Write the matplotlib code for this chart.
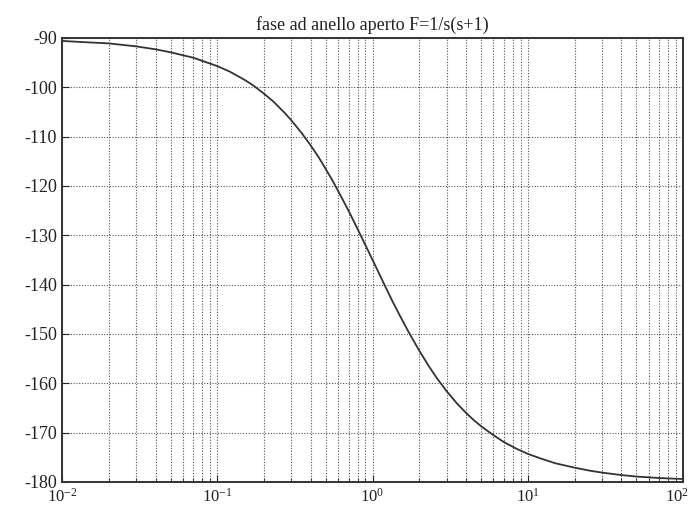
import matplotlib
matplotlib.use("Agg")
import matplotlib.pyplot as plt
from matplotlib.ticker import LogLocator, FixedLocator
import matplotlib.transforms as mtransforms

# Frequency (rad/s) and phase (deg)
freq = [0.01, 0.015, 0.02, 0.03, 0.04, 0.05, 0.07, 0.1, 0.12, 0.15, 0.17, 0.2, 0.23,
        0.27, 0.3, 0.35, 0.4, 0.45, 0.5, 0.55, 0.6, 0.7, 0.8, 0.9, 1.0, 1.1, 1.2,
        1.35, 1.5, 1.7, 2.0, 2.3, 2.6, 3.0, 3.5, 4.0, 4.5, 5.0, 6.0, 7.0, 8.5,
        10.0, 12.0, 15.0, 20.0, 25.0, 30.0, 40.0, 50.0, 70.0, 100.0]
phase = [-90.6, -90.9, -91.1, -91.7, -92.3, -92.9, -94.0, -95.7, -96.8, -98.5,
         -99.6, -101.3, -102.9, -105.1, -106.7, -109.3, -111.8, -114.2, -116.6,
         -118.8, -121.0, -125.0, -128.7, -132.0, -135.0, -137.7, -140.2, -143.5,
         -146.3, -149.5, -153.4, -156.5, -159.0, -161.6, -164.1, -166.0, -167.5,
         -168.7, -170.5, -171.9, -173.3, -174.3, -175.2, -176.2, -177.1, -177.7,
         -178.1, -178.6, -178.9, -179.2, -179.4]

yticks = [-90, -100, -110, -120, -130, -140, -150, -160, -170, -180]
title = "fase ad anello aperto F=1/s(s+1)"

plt.rcParams['font.family'] = ['Liberation Serif', 'DejaVu Serif']
plt.rcParams['axes.unicode_minus'] = False

fig = plt.figure(figsize=(6.9, 5.05), dpi=100)
ax = fig.add_axes([0.0899, 0.0456, 0.9001, 0.8792])
ax.semilogx(freq, phase, color='#333333', linewidth=1.3)
ax.set_xlim(1e-2, 1e2)
ax.set_ylim(-180, -90)
ax.yaxis.set_major_locator(FixedLocator(yticks))
ax.xaxis.set_major_locator(LogLocator(base=10, numticks=10))
ax.xaxis.set_minor_locator(LogLocator(base=10, subs=range(2, 10), numticks=20))
ax.grid(True, which='both', linestyle=(0, (1, 1.5)), color='#555555', linewidth=0.8)
ax.tick_params(which='both', direction='in', labelsize=13, colors='#222222')
ax.tick_params(axis='x', pad=4, labelsize=12)
ax.tick_params(which='minor', length=3)
ax.tick_params(which='major', length=5)
for s in ax.spines.values():
    s.set_linewidth(1.4)
    s.set_color('#333333')
ax.set_title(title, fontsize=13, color='#222222', pad=6)

fig.canvas.draw()
labels = ax.get_xticklabels()
for lab in labels:
    if lab.get_text() and '2' in lab.get_text() and '-' not in lab.get_text():
        lab.set_transform(lab.get_transform() +
                          mtransforms.ScaledTranslation(-6 / 100, 0, fig.dpi_scale_trans))
fig.savefig("out.png", dpi=100)
